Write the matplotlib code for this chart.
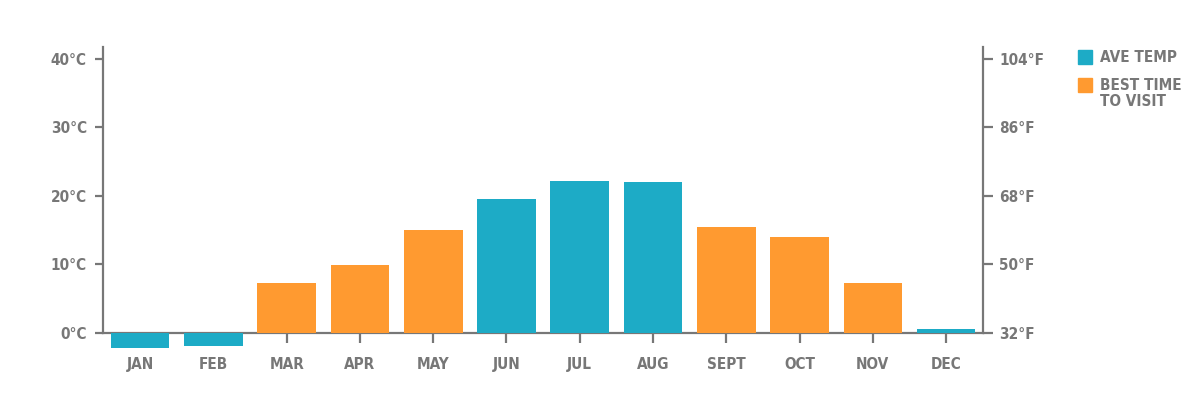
import matplotlib.pyplot as plt
import matplotlib.patches as patches

months = ['JAN', 'FEB', 'MAR', 'APR', 'MAY', 'JUN', 'JUL', 'AUG', 'SEPT', 'OCT', 'NOV', 'DEC']
ave_temp = [-2.3, -2.0, 7.25, 9.9, 15.0, 19.5, 22.15, 22.0, 15.4, 14.0, 7.25, 0.55]
best_time = [False, False, True, True, True, False, False, False, True, True, True, False]
c_ticks = [0, 10, 20, 30, 40]

TEAL = '#1DABC6'
ORANGE = '#FF9A30'
GREY = '#777777'

plt.rcParams['font.family'] = ['Liberation Sans Narrow', 'DejaVu Sans Condensed', 'DejaVu Sans']
plt.rcParams['font.stretch'] = 'condensed'

fig = plt.figure(figsize=(12, 4), dpi=100)
ax = fig.add_axes([0.08625, 0.1168, 0.7327, 0.7662])

colors = [ORANGE if b else TEAL for b in best_time]
ax.bar(range(len(months)), ave_temp, width=0.8, color=colors, zorder=3)

ax.set_xlim(-0.5, len(months) - 0.5)
ax.set_ylim(-3, 41.75)

ax.spines['top'].set_visible(False)
ax.spines['bottom'].set_position(('data', 0))
ax.spines['left'].set_bounds(0, 41.75)
ax.spines['right'].set_bounds(0, 41.75)
for s in ['left', 'bottom', 'right']:
    ax.spines[s].set_color(GREY)
    ax.spines[s].set_linewidth(1.6)

ax.set_xticks(range(len(months)))
ax.set_xticklabels(months)
ax.set_yticks(c_ticks)
ax.set_yticklabels([f'{c}°C' for c in c_ticks])
ax.tick_params(axis='x', length=7.2, width=1.6, color=GREY, pad=10.5,
               labelsize=11, labelcolor=GREY)
ax.tick_params(axis='y', length=6, width=1.6, color=GREY, pad=6,
               labelsize=11, labelcolor=GREY)
for lab in ax.get_xticklabels() + ax.get_yticklabels():
    lab.set_fontweight('bold')

ax2 = ax.twinx()
ax2.set_ylim(ax.get_ylim())
ax2.set_yticks(c_ticks)
ax2.set_yticklabels([f'{round(c * 1.8 + 32)}°F' for c in c_ticks])
for s in ['top', 'bottom', 'left', 'right']:
    ax2.spines[s].set_visible(False)
ax2.tick_params(axis='y', length=7, width=1.6, color=GREY, pad=5,
                labelsize=11, labelcolor=GREY)
for lab in ax2.get_yticklabels():
    lab.set_fontweight('bold')

# legend
legend_items = [('AVE TEMP', TEAL), ('BEST TIME\nTO VISIT', ORANGE)]
for i, (label, col) in enumerate(legend_items):
    top = 1 - (50 + 28 * i) / 400
    fig.add_artist(patches.Rectangle((1078 / 1200, top - 14 / 400), 14 / 1200, 14 / 400,
                                     transform=fig.transFigure, color=col))
    fig.text(1100 / 1200, top, label, ha='left', va='top', fontsize=11,
             fontweight='bold', color=GREY, linespacing=1.1)

fig.savefig('out.png', dpi=100)
